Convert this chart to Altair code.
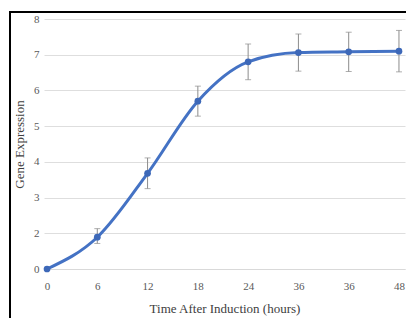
import json
import altair as alt
import pandas as pd

# ---- data ----
time_labels = ["0", "6", "12", "18", "24", "36", "36", "48"]
expression = [0.0, 1.78, 3.68, 5.70, 6.80, 7.06, 7.08, 7.10]
error = [0.0, 0.35, 0.43, 0.42, 0.50, 0.52, 0.55, 0.58]
y_ticks = [0, 2, 3, 4, 5, 6, 7, 8]

df = pd.DataFrame({
    "idx": list(range(len(time_labels))),
    "label": time_labels,
    "expr": expression,
    "err": error,
})
df["lo"] = df["expr"] - df["err"]
df["hi"] = df["expr"] + df["err"]
df_err = df[df["err"] > 0]

W, H = 361, 250
FONT = "Liberation Serif"
BLUE = "#4472C4"

label_expr = json.dumps(time_labels) + "[datum.value]"

xscale = alt.Scale(domain=[-0.06, 7.12], nice=False, zero=False)
yscale = alt.Scale(domain=[0, 2, 8], range=[H, H * 6 / 7, 0], nice=False, zero=False)

xaxis = alt.Axis(values=list(range(len(time_labels))), labelExpr=label_expr,
                 tickCount=20, grid=False, ticks=False, domainColor="#d9d9d9",
                 labelFont=FONT, labelFontSize=11, labelColor="#595959",
                 labelPadding=11, labelOverlap=False, labelFlush=False,
                 title="Time After Induction (hours)",
                 titleFont=FONT, titleFontSize=13, titleFontWeight="normal",
                 titleColor="#404040", titlePadding=11)
yaxis = alt.Axis(values=y_ticks, tickCount=20, format="d", domain=False,
                 ticks=False, labelOverlap=False, labelFlush=False,
                 gridColor="#dedede", labelFont=FONT, labelFontSize=11,
                 labelColor="#595959", labelPadding=5, title="Gene Expression",
                 titleFont=FONT, titleFontSize=13, titleFontWeight="normal",
                 titleColor="#404040", titlePadding=7)

base = alt.Chart(df)

rules = alt.Chart(df_err).mark_rule(color="#8c8c8c", strokeWidth=1).encode(
    x=alt.X("idx:Q", scale=xscale, axis=xaxis),
    y=alt.Y("lo:Q", scale=yscale, axis=yaxis),
    y2="hi:Q",
)
caps_hi = alt.Chart(df_err).mark_tick(color="#8c8c8c", orient="horizontal",
                                      size=6, thickness=1).encode(
    x=alt.X("idx:Q", scale=xscale), y=alt.Y("hi:Q", scale=yscale))
caps_lo = alt.Chart(df_err).mark_tick(color="#8c8c8c", orient="horizontal",
                                      size=6, thickness=1).encode(
    x=alt.X("idx:Q", scale=xscale), y=alt.Y("lo:Q", scale=yscale))

line = base.mark_line(color=BLUE, strokeWidth=3, interpolate="monotone").encode(
    x=alt.X("idx:Q", scale=xscale), y=alt.Y("expr:Q", scale=yscale))
points = base.mark_circle(color="#3d68b8", size=45, opacity=1).encode(
    x=alt.X("idx:Q", scale=xscale), y=alt.Y("expr:Q", scale=yscale))

frame = alt.Data(values=[{"a": 1}])
border_left = alt.Chart(frame).mark_rule(color="black", strokeWidth=2).encode(
    x=alt.value(-34), y=alt.value(-7), y2=alt.value(H + 49))
border_top = alt.Chart(frame).mark_rule(color="black", strokeWidth=2).encode(
    x=alt.value(-35), x2=alt.value(W + 1), y=alt.value(-7))

chart = alt.layer(rules, caps_hi, caps_lo, line, points,
                  border_left, border_top).properties(
    width=W, height=H,
    autosize=alt.AutoSizeParams(type="none"),
    padding={"left": 36, "top": 11, "right": 1, "bottom": 49},
    background="white",
).configure_view(stroke=None)

chart.save("out.html", embed_options={"renderer": "svg", "actions": False})
